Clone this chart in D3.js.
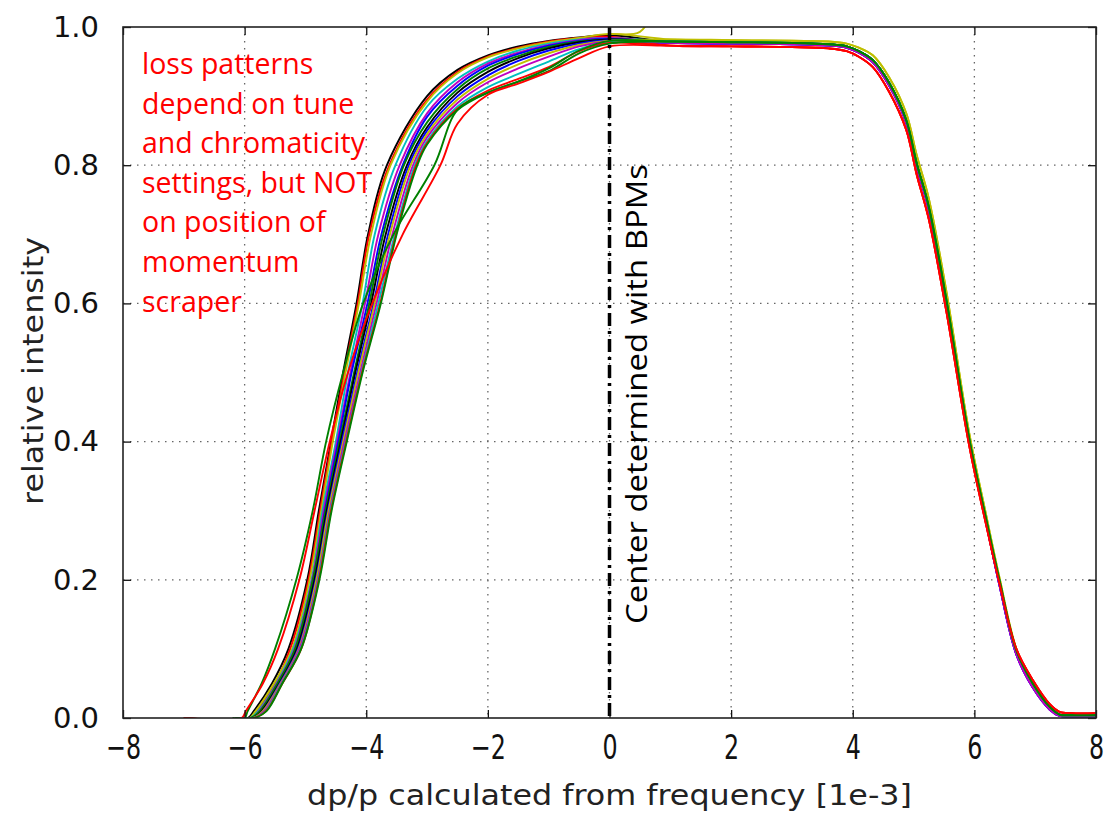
<!DOCTYPE html>
<html lang="en">
<head>
<meta charset="UTF-8">
<title>relative intensity vs dp/p</title>
<script src="https://d3js.org/d3.v7.min.js"></script>
<style>
  body { margin: 0; background: #fff; overflow: hidden; }
  svg { display: block; }
  .tick text { fill: #111; }
</style>
</head>
<body>
<script>
const W = 1107, H = 815;

// tick values
const xTicks = [-8, -6, -4, -2, 0, 2, 4, 6, 8];
const yTicks = [0, 0.2, 0.4, 0.6, 0.8, 1.0];

// rising edge: x position where each curve reaches these intensities
const riseLevels = [0, 0.01, 0.05, 0.1, 0.2, 0.3, 0.4, 0.5, 0.6, 0.7, 0.8];
// upper part of the rising edge: intensity at these x positions
const topX = [-3, -2.5, -2, -1.5, -1, -0.5, 0];
// falling edge: intensity at these x positions
const fallX = [1, 2, 3, 3.6, 3.9, 4.1, 4.33, 4.6, 4.88, 5.05, 5.25, 5.54, 5.92, 6.2, 6.41, 6.69, 6.96, 7.24, 7.4, 7.6, 8];

const fallA = [0.979, 0.978, 0.977, 0.975, 0.972, 0.965, 0.952, 0.919, 0.865, 0.803, 0.74, 0.605, 0.402, 0.285, 0.2, 0.098, 0.05, 0.016, 0.005, 0.004, 0.004];
const fallB = [0.973, 0.972, 0.971, 0.969, 0.965, 0.957, 0.942, 0.906, 0.851, 0.787, 0.722, 0.588, 0.392, 0.277, 0.196, 0.1, 0.055, 0.02, 0.009, 0.007, 0.007];
const fallC = [0.982, 0.981, 0.98, 0.979, 0.976, 0.97, 0.959, 0.927, 0.875, 0.815, 0.752, 0.617, 0.41, 0.291, 0.204, 0.1, 0.048, 0.014, 0.004, 0.003, 0.003];
const fallD = [0.977, 0.976, 0.975, 0.973, 0.97, 0.963, 0.949, 0.915, 0.861, 0.798, 0.736, 0.601, 0.398, 0.28, 0.193, 0.092, 0.044, 0.012, 0.003, 0.002, 0.002];

const curveColors = ["k", "r", "y", "c", "m", "b", "g", "k", "b", "y", "m", "c", "r", "g", "g", "r"];
const curveStart = [-7, -7, -6.15, -6.15, -6.15, -6.15, -6.15, -6.15, -6.15, -6.15, -6.15, -6.15, -7, -6.15, -6.2, -7];
const curveRise = [
  [-5.95, -5.85, -5.55, -5.28, -4.97, -4.78, -4.58, -4.38, -4.16, -3.97, -3.66],
  [-5.9, -5.8, -5.5, -5.25, -4.95, -4.76, -4.57, -4.36, -4.14, -3.95, -3.62],
  [-5.92, -5.82, -5.52, -5.22, -4.93, -4.74, -4.55, -4.34, -4.12, -3.92, -3.6],
  [-5.9, -5.78, -5.48, -5.2, -4.9, -4.72, -4.5, -4.3, -4.06, -3.86, -3.52],
  [-5.88, -5.76, -5.47, -5.18, -4.89, -4.7, -4.48, -4.26, -4.02, -3.8, -3.45],
  [-5.87, -5.74, -5.45, -5.16, -4.87, -4.68, -4.46, -4.24, -3.98, -3.75, -3.4],
  [-5.9, -5.75, -5.46, -5.17, -4.88, -4.67, -4.44, -4.2, -3.95, -3.72, -3.38],
  [-5.86, -5.72, -5.43, -5.14, -4.85, -4.65, -4.42, -4.18, -3.92, -3.68, -3.33],
  [-5.85, -5.7, -5.42, -5.12, -4.83, -4.63, -4.4, -4.15, -3.88, -3.64, -3.3],
  [-5.86, -5.7, -5.41, -5.11, -4.82, -4.62, -4.38, -4.13, -3.86, -3.61, -3.27],
  [-5.85, -5.68, -5.4, -5.1, -4.8, -4.6, -4.36, -4.1, -3.83, -3.57, -3.23],
  [-5.84, -5.66, -5.39, -5.08, -4.79, -4.59, -4.34, -4.08, -3.8, -3.53, -3.2],
  [-5.84, -5.65, -5.38, -5.07, -4.78, -4.58, -4.33, -4.07, -3.77, -3.51, -3.18],
  [-5.85, -5.64, -5.38, -5.07, -4.77, -4.57, -4.32, -4.06, -3.76, -3.5, -3.16],
  [-6.0, -5.95, -5.72, -5.5, -5.15, -4.88, -4.66, -4.38, -4.05, -3.55, -2.88],
  [-6.05, -5.98, -5.7, -5.45, -5.1, -4.85, -4.6, -4.3, -3.9, -3.4, -2.78]
];
const curveTop = [
  [0.9, 0.938, 0.959, 0.972, 0.98, 0.985, 0.988],
  [0.895, 0.935, 0.957, 0.97, 0.979, 0.984, 0.986],
  [0.892, 0.933, 0.956, 0.969, 0.978, 0.984, 0.99],
  [0.885, 0.925, 0.95, 0.966, 0.976, 0.982, 0.984],
  [0.875, 0.92, 0.947, 0.963, 0.974, 0.981, 0.984],
  [0.87, 0.915, 0.944, 0.961, 0.973, 0.98, 0.983],
  [0.862, 0.91, 0.94, 0.958, 0.971, 0.979, 0.982],
  [0.855, 0.905, 0.935, 0.955, 0.969, 0.978, 0.982],
  [0.85, 0.9, 0.93, 0.951, 0.966, 0.976, 0.981],
  [0.845, 0.895, 0.925, 0.946, 0.962, 0.974, 0.98],
  [0.84, 0.89, 0.92, 0.94, 0.957, 0.972, 0.979],
  [0.835, 0.885, 0.913, 0.932, 0.95, 0.968, 0.978],
  [0.832, 0.882, 0.908, 0.925, 0.942, 0.965, 0.977],
  [0.83, 0.88, 0.905, 0.921, 0.936, 0.962, 0.976],
  [0.86, 0.88, 0.905, 0.921, 0.94, 0.966, 0.98],
  [0.85, 0.86, 0.902, 0.918, 0.935, 0.955, 0.972]
];
const curveFall = ["A", "B", "C", "A", "D", "D", "A", "A", "D", "C", "D", "A", "B", "A", "A", "B"];

// short olive trace leaving the top of the frame just right of centre
const spikeX = [0, 0.4, 0.5, 0.58, 0.64];
const spikeY = [0.99, 0.99, 0.993, 1.0, 1.012];

const noteLines = ["loss patterns", "depend on tune", "and chromaticity", "settings, but NOT", "on position of", "momentum", "scraper"];

const colorMap = { b: "#0000ff", g: "#008000", r: "#ff0000", c: "#00bfbf", m: "#bf00bf", y: "#bfbf00", k: "#000000" };
const fallMap = { A: fallA, B: fallB, C: fallC, D: fallD };

// build each trace from its pieces
const traces = curveRise.map((rise, i) => {
  const pts = [[curveStart[i], 0]];
  rise.forEach((xv, j) => pts.push([xv, riseLevels[j]]));
  const lastX = rise[rise.length - 1];
  topX.forEach((xv, j) => { if (xv > lastX) pts.push([xv, curveTop[i][j]]); });
  const fall = fallMap[curveFall[i]];
  fallX.forEach((xv, j) => pts.push([xv, fall[j]]));
  return { color: colorMap[curveColors[i]], pts };
});
traces.push({ color: colorMap.y, pts: spikeX.map((xv, j) => [xv, spikeY[j]]) });

const svg = d3.select("body").append("svg").attr("width", W).attr("height", H);

const x = d3.scaleLinear().domain([-8, 8]).range([123, 1096]);
const y = d3.scaleLinear().domain([0, 1]).range([718, 27]);

svg.append("defs").append("clipPath").attr("id", "plot")
  .append("rect")
  .attr("x", x(-8)).attr("y", y(1))
  .attr("width", x(8) - x(-8)).attr("height", y(0) - y(1));

// dotted grid
const grid = svg.append("g").attr("stroke", "#666").attr("stroke-width", 1.3).attr("stroke-dasharray", "1.5,5.5");
grid.selectAll("line.gx").data(xTicks.slice(1, -1)).enter().append("line")
  .attr("x1", d => x(d)).attr("x2", d => x(d))
  .attr("y1", y(1)).attr("y2", y(0));
grid.selectAll("line.gy").data(yTicks.slice(1, -1)).enter().append("line")
  .attr("y1", d => y(d)).attr("y2", d => y(d))
  .attr("x1", x(-8)).attr("x2", x(8));

// traces
const line = d3.line().x(d => x(d[0])).y(d => y(d[1])).curve(d3.curveCatmullRom.alpha(0.5));
svg.append("g").attr("clip-path", "url(#plot)")
  .selectAll("path").data(traces).enter().append("path")
  .attr("d", d => line(d.pts))
  .attr("fill", "none")
  .attr("stroke", d => d.color)
  .attr("stroke-width", 1.9)
  .attr("stroke-linejoin", "round");

// centre line
svg.append("line")
  .attr("x1", x(0)).attr("x2", x(0))
  .attr("y1", y(1)).attr("y2", y(0))
  .attr("stroke", "#000").attr("stroke-width", 3.5)
  .attr("stroke-dasharray", "13,5,3,5");

// axes with inward ticks
const xAxis = svg.append("g").attr("transform", `translate(0,${y(0)})`)
  .call(d3.axisBottom(x).tickValues(xTicks).tickSizeInner(-8).tickSizeOuter(0).tickPadding(17));
xAxis.selectAll("text")
  .attr("font-family", "DejaVu Sans, sans-serif").attr("font-size", 34)
  .attr("transform", "scale(0.7,1)");

const yAxis = svg.append("g").attr("transform", `translate(${x(-8)},0)`)
  .call(d3.axisLeft(y).tickValues(yTicks).tickFormat(d3.format(".1f")).tickSizeInner(-8).tickSizeOuter(0).tickPadding(24));
yAxis.selectAll("text")
  .attr("font-family", "DejaVu Sans, sans-serif").attr("font-size", 29);

svg.append("g").attr("transform", `translate(0,${y(1)})`)
  .call(d3.axisTop(x).tickValues(xTicks).tickSizeInner(-8).tickSizeOuter(0).tickFormat(""));
svg.append("g").attr("transform", `translate(${x(8)},0)`)
  .call(d3.axisRight(y).tickValues(yTicks).tickSizeInner(-8).tickSizeOuter(0).tickFormat(""));

svg.selectAll(".domain").remove();
svg.selectAll(".tick line").attr("stroke", "#111").attr("stroke-width", 1.3);

// frame
svg.append("rect")
  .attr("x", x(-8)).attr("y", y(1))
  .attr("width", x(8) - x(-8)).attr("height", y(0) - y(1))
  .attr("fill", "none").attr("stroke", "#222").attr("stroke-width", 1.6);

// axis titles
svg.append("text")
  .attr("x", (x(-8) + x(8)) / 2).attr("y", 805)
  .attr("text-anchor", "middle")
  .attr("font-family", "DejaVu Sans, sans-serif").attr("font-size", 29)
  .attr("textLength", 605).attr("lengthAdjust", "spacingAndGlyphs")
  .attr("fill", "#222")
  .text("dp/p calculated from frequency [1e-3]");

svg.append("text")
  .attr("transform", "translate(43,371) rotate(-90)")
  .attr("text-anchor", "middle")
  .attr("font-family", "DejaVu Sans, sans-serif").attr("font-size", 29)
  .attr("textLength", 268).attr("lengthAdjust", "spacingAndGlyphs")
  .attr("fill", "#222")
  .text("relative intensity");

// annotations
svg.append("text")
  .attr("transform", `translate(${x(0) + 37},394) rotate(-90)`)
  .attr("text-anchor", "middle")
  .attr("font-family", "Open Sans, sans-serif").attr("font-size", 30)
  .attr("textLength", 460).attr("lengthAdjust", "spacingAndGlyphs")
  .attr("fill", "#000")
  .text("Center determined with BPMs");

svg.append("g").selectAll("text").data(noteLines).enter().append("text")
  .attr("x", 142)
  .attr("y", (d, i) => 74 + i * 39.6)
  .attr("font-family", "Open Sans, sans-serif").attr("font-size", 28.5)
  .attr("fill", "#ff0000")
  .text(d => d);
</script>
</body>
</html>
